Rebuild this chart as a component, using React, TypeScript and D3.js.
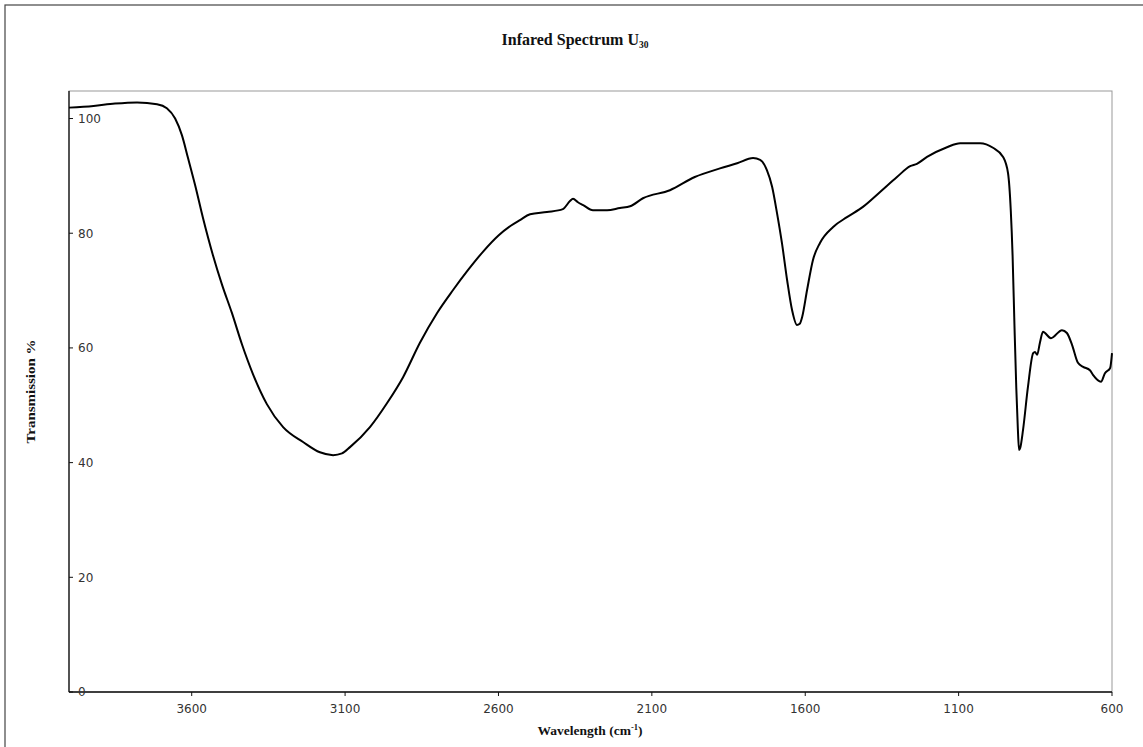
import React from "react";
import * as d3 from "d3";

const wavenumbers = [
  4000, 3920, 3850, 3778, 3713, 3681, 3654, 3632, 3612, 3589, 3563, 3531, 3501,
  3469, 3436, 3400, 3355, 3302, 3237, 3182, 3139, 3110, 3084, 3019, 2963, 2911,
  2856, 2800, 2748, 2699, 2650, 2600, 2560, 2530, 2497, 2442, 2390, 2367, 2357,
  2341, 2324, 2292, 2246, 2204, 2171, 2129, 2041, 1960, 1878, 1822, 1770, 1747,
  1725, 1708, 1692, 1676, 1659, 1643, 1627, 1618, 1610, 1594, 1575, 1552, 1509,
  1464, 1412, 1356, 1301, 1258, 1236, 1203, 1138, 1095, 1030, 988, 955, 939, 930,
  924, 918, 912, 907, 903, 899, 890, 874, 857, 851, 844, 835, 825, 799, 763, 747,
  730, 711, 694, 672, 662, 636, 623, 606, 600,
];
const transmission = [
  101.9, 102.2, 102.6, 102.8, 102.5, 101.8, 100.0, 97.1, 93.1, 88.4, 82.6, 76.2, 71.0,
  66.1, 60.6, 55.4, 50.2, 46.2, 43.6, 41.8, 41.3, 41.6, 42.7, 46.2, 50.4, 54.9,
  60.9, 66.1, 70.1, 73.6, 76.8, 79.6, 81.3, 82.3, 83.3, 83.7, 84.2, 85.6, 86.0,
  85.4, 84.9, 84.0, 84.0, 84.4, 84.7, 86.1, 87.5, 89.8, 91.3, 92.2, 93.1, 92.8,
  91.0, 88.1, 83.5, 78.3, 71.8, 66.6, 64.0, 64.2, 65.4, 70.1, 75.3, 78.3, 81.1,
  82.8, 84.6, 87.2, 89.8, 91.7, 92.1, 93.3, 95.0, 95.7, 95.7, 94.9, 93.3, 90.5, 84,
  76, 64, 53, 46, 42.2, 42.6, 45.7, 53.2, 59.1, 59.3, 58.8, 60.9, 62.8, 61.7, 63.1, 62.6,
  60.5, 57.4, 56.7, 56.1, 55.3, 54.1, 55.6, 56.5, 59.1,
];
const xTicks = [3600, 3100, 2600, 2100, 1600, 1100, 600];
const yTicks = [0, 20, 40, 60, 80, 100];

export default function App() {
  const W = 1143;
  const H = 747;
  const left = 69, right = 1112, top = 91, bottom = 692;
  const x = d3.scaleLinear().domain([4000, 600]).range([left, right]);
  const y = d3.scaleLinear().domain([0, 104.8]).range([bottom, top]);
  const pts = wavenumbers.map((w, i) => [w, transmission[i]] as [number, number]);
  const line = d3
    .line<[number, number]>()
    .x((d) => x(d[0]))
    .y((d) => y(d[1]))
    .curve(d3.curveMonotoneX);
  const tickFont = "'DejaVu Sans', Verdana, sans-serif";
  const serif = "'Liberation Serif', 'Times New Roman', serif";
  return (
    <svg
      width={W}
      height={H}
      style={{ position: "absolute", left: 0, top: 0, background: "#fff" }}
    >
      <rect x={0} y={0} width={W} height={H} fill="#fff" />
      <rect x={5} y={5} width={W + 10} height={H + 10} fill="none" stroke="#444" strokeWidth={1.2} />
      <text
        x={575}
        y={45}
        textAnchor="middle"
        fontFamily={serif}
        fontWeight="bold"
        fontSize={16}
        fill="#111"
      >
        Infared Spectrum U
        <tspan fontSize={9.5} dy={3}>30</tspan>
      </text>
      <rect
        x={left}
        y={top}
        width={right - left}
        height={bottom - top}
        fill="none"
        stroke="#999"
        strokeWidth={1}
      />
      <line x1={left} y1={top} x2={left} y2={bottom} stroke="#111" strokeWidth={1.3} />
      <line x1={left} y1={bottom} x2={right} y2={bottom} stroke="#111" strokeWidth={1.3} />
      {yTicks.map((t) => (
        <g key={"y" + t}>
          <line x1={left} x2={left + 4} y1={y(t)} y2={y(t)} stroke="#111" strokeWidth={1} />
          <text
            x={left + 9}
            y={y(t)}
            dy="0.36em"
            fontFamily={tickFont}
            fontSize={12}
            fill="#333"
          >
            {t}
          </text>
        </g>
      ))}
      {xTicks.map((t) => (
        <g key={"x" + t}>
          <line x1={x(t)} x2={x(t)} y1={bottom} y2={bottom + 4} stroke="#111" strokeWidth={1} />
          <text
            x={x(t)}
            y={713}
            textAnchor="middle"
            fontFamily={tickFont}
            fontSize={12}
            fill="#333"
          >
            {t}
          </text>
        </g>
      ))}
      <path d={line(pts) || ""} fill="none" stroke="#000" strokeWidth={2} strokeLinejoin="round" />
      <text
        x={590}
        y={735}
        textAnchor="middle"
        fontFamily={serif}
        fontWeight="bold"
        fontSize={13.5}
        fill="#111"
      >
        Wavelength (cm
        <tspan fontSize={8.5} dy={-5}>-1</tspan>
        <tspan dy={5}>)</tspan>
      </text>
      <text
        transform={`translate(35, ${(top + bottom) / 2}) rotate(-90)`}
        textAnchor="middle"
        fontFamily={serif}
        fontWeight="bold"
        fontSize={13}
        textLength={104}
        lengthAdjust="spacingAndGlyphs"
        fill="#111"
      >
        Transmission %
      </text>
    </svg>
  );
}
